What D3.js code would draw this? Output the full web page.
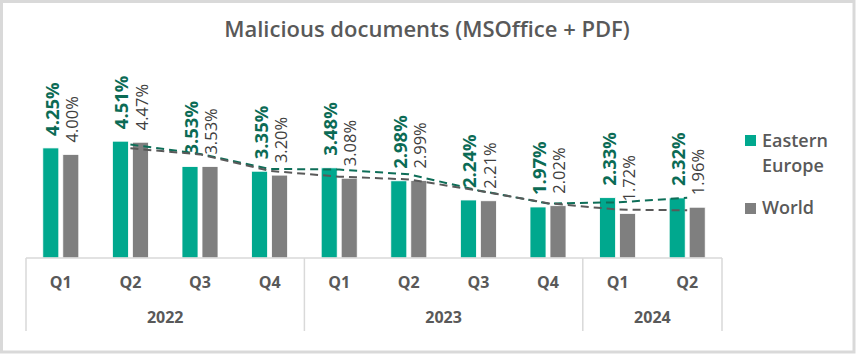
<!DOCTYPE html>
<html>
<head>
<meta charset="utf-8">
<script src="https://cdn.jsdelivr.net/npm/d3@7"></script>
<style>
  body { margin: 0; background: #fff; }
  svg { display: block; font-family: "Open Sans", sans-serif; }
</style>
</head>
<body>
<div id="chart"></div>
<script>
const quarters = ["Q1", "Q2", "Q3", "Q4", "Q1", "Q2", "Q3", "Q4", "Q1", "Q2"]
const years = ["2022", "2022", "2022", "2022", "2023", "2023", "2023", "2023", "2024", "2024"]
const easternEurope = [4.25, 4.51, 3.53, 3.35, 3.48, 2.98, 2.24, 1.97, 2.33, 2.32]
const world = [4.00, 4.47, 3.53, 3.20, 3.08, 2.99, 2.21, 2.02, 1.72, 1.96]
const seriesNames = ["Eastern Europe", "World"]

const width = 856, height = 354
const eeColor = "#00a88e", worldColor = "#7f7f7f"
const eeDark = "#0b6b55", greyText = "#595959"

const svg = d3.select("#chart").append("svg")
    .attr("width", width)
    .attr("height", height)

// outer frame
svg.append("rect")
    .attr("x", 1.5).attr("y", 1.5)
    .attr("width", width - 3.5).attr("height", height - 3.5)
    .style("fill", "#fff")
    .style("stroke", "#d9d9d9")
    .style("stroke-width", 3)

svg.append("text")
    .text("Malicious documents (MSOffice + PDF)")
    .attr("x", 427).attr("y", 37)
    .attr("text-anchor", "middle")
    .style("font-size", "22px")
    .style("font-weight", 600)
    .style("fill", greyText)

const keys = quarters.map((q, i) => years[i] + "-" + q)
const x = d3.scaleBand().domain(keys).range([26, 722])
const bw = x.bandwidth()
const x1 = d3.scaleBand().domain(["ee", "world"])
    .range([(bw - 36) / 2, (bw + 36) / 2])
    .paddingInner(0.2)
const y = d3.scaleLinear().domain([0, 5]).range([258, 128.5])

const rows = keys.map((k, i) => ({ key: k, ee: easternEurope[i], world: world[i] }))

// bars
const groups = svg.append("g").selectAll("g")
    .data(rows).join("g")
    .attr("transform", d => "translate(" + x(d.key) + ",0)")

groups.append("rect")
    .attr("x", x1("ee"))
    .attr("y", d => y(d.ee))
    .attr("width", x1.bandwidth())
    .attr("height", d => y(0) - y(d.ee))
    .style("fill", eeColor)
    .style("stroke", "#fff").style("stroke-width", 0.8)

groups.append("rect")
    .attr("x", x1("world"))
    .attr("y", d => y(d.world))
    .attr("width", x1.bandwidth())
    .attr("height", d => y(0) - y(d.world))
    .style("fill", worldColor)
    .style("stroke", "#fff").style("stroke-width", 0.8)

// 2-period moving average trendlines
const movAvg = arr => arr.slice(1).map((v, i) => ({ i: i + 1, v: (v + arr[i]) / 2 }))
const line = d3.line()
    .x(d => x(keys[d.i]) + bw / 2)
    .y(d => y(d.v))

svg.append("path")
    .datum(movAvg(easternEurope))
    .attr("d", line)
    .style("fill", "none")
    .style("stroke", "#0e6e58")
    .style("stroke-width", 2)
    .style("stroke-dasharray", "8,5")

svg.append("path")
    .datum(movAvg(world))
    .attr("d", line)
    .style("fill", "none")
    .style("stroke", "#595959")
    .style("stroke-width", 2)
    .style("stroke-dasharray", "8,5")

// data labels
groups.append("text")
    .text(d => d.ee.toFixed(2) + "%")
    .attr("transform", d => "translate(" + (x1("ee") + x1.bandwidth() / 2 + 1) + "," + (y(d.ee) - 12) + ") rotate(-90)")
    .attr("dy", "0.38em")
    .style("font-size", "18.5px")
    .style("font-weight", 700)
    .style("fill", eeDark)

groups.append("text")
    .text(d => d.world.toFixed(2) + "%")
    .attr("transform", d => "translate(" + (x1("world") + x1.bandwidth() / 2 + 1) + "," + (y(d.world) - 12) + ") rotate(-90)")
    .attr("dy", "0.38em")
    .style("font-size", "16.5px")
    .style("fill", "#404040")

// axis
const axisColor = "#d9d9d9"
svg.append("line")
    .attr("x1", 26).attr("x2", 722)
    .attr("y1", 258).attr("y2", 258)
    .style("stroke", axisColor).style("stroke-width", 1.5)

const yearList = Array.from(new Set(years))
const yearBounds = yearList.map(yr => {
    const idx = years.map((v, i) => v === yr ? i : -1).filter(i => i >= 0)
    return { year: yr, x0: x(keys[idx[0]]), x1: x(keys[idx[idx.length - 1]]) + bw }
})
const seps = yearBounds.map(d => d.x0).concat([yearBounds[yearBounds.length - 1].x1])
svg.selectAll(".sep").data(seps).join("line")
    .attr("class", "sep")
    .attr("x1", d => d).attr("x2", d => d)
    .attr("y1", 258).attr("y2", 331)
    .style("stroke", axisColor).style("stroke-width", 1.5)

svg.selectAll(".qlab").data(keys).join("text")
    .attr("class", "qlab")
    .text((d, i) => quarters[i])
    .attr("x", d => x(d) + bw / 2)
    .attr("y", 288)
    .attr("text-anchor", "middle")
    .style("font-size", "16px")
    .style("font-weight", 700)
    .style("fill", greyText)

svg.selectAll(".ylab").data(yearBounds).join("text")
    .attr("class", "ylab")
    .text(d => d.year)
    .attr("x", d => (d.x0 + d.x1) / 2)
    .attr("y", 323)
    .attr("text-anchor", "middle")
    .style("font-size", "16px")
    .style("font-weight", 700)
    .style("fill", greyText)

// legend
const legend = svg.append("g")
legend.append("rect").attr("x", 745).attr("y", 135).attr("width", 11).attr("height", 11).style("fill", eeColor)
legend.append("rect").attr("x", 745).attr("y", 203).attr("width", 11).attr("height", 11).style("fill", worldColor)
const eeWords = seriesNames[0].split(" ")
legend.append("text").text(eeWords[0]).attr("x", 762).attr("y", 146.5)
legend.append("text").text(eeWords[1]).attr("x", 762).attr("y", 171.5)
legend.append("text").text(seriesNames[1]).attr("x", 762).attr("y", 213.5)
legend.selectAll("text")
    .style("font-size", "18px")
    .style("font-weight", 600)
    .style("fill", greyText)
</script>
</body>
</html>
